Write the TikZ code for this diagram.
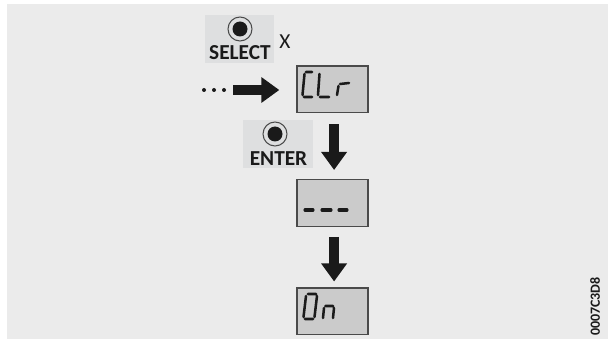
\documentclass[tikz,border=0pt]{standalone}
\usepackage{fontspec}
\setmainfont{Carlito}
\usetikzlibrary{arrows.meta}
\definecolor{panel}{HTML}{EBEBEB}
\definecolor{keybg}{HTML}{DEDFE0}
\definecolor{lcdbg}{HTML}{CBCBCB}
\definecolor{lcdline}{HTML}{4A4A4A}
\definecolor{ink}{HTML}{1A1A1A}
\tikzset{
lcd/.style={draw=lcdline,line width=1pt,fill=lcdbg,minimum width=53.25pt,minimum height=35pt,inner sep=0pt},
key/.style={fill=keybg,minimum width=52pt,minimum height=36pt,inner sep=0pt},
keyname/.style={font=\bfseries\fontsize{16}{16}\selectfont,text=ink,inner sep=0pt},
keyring/.style={draw=lcdline,fill=keybg,line width=.8pt},
segment/.style={ink,line width=1.9pt,line cap=round},
blockarrow/.style={ink,line width=8pt,-{Triangle[length=13.5pt,width=18.5pt]}},
}
\begin{document}
\begin{tikzpicture}[x=.75pt,y=-.75pt]
\useasboundingbox (0,0) rectangle (608,342);
\fill[white] (0,0) rectangle (608,342);
\fill[panel] (7,4) rectangle (608,339);

%select key
\node[key] (select) at (239.5,39) {};
\draw[keyring] (240,29) circle (12);
\fill[ink] (240,29) circle (7.5);
\node[keyname] (selecttext) at (240,52.5) {SELECT};
\node[font=\fontsize{16}{16}\selectfont,text=ink,inner sep=0pt] (times) at (285,42) {X};

%dots and first arrow
\fill[ink] (204,90) circle (2) (214,90) circle (2) (224,90) circle (2);
\coordinate (arrowstart) at (233,90);

%displays
\node[lcd] (clr) at (332.5,89.5) {};
\node[lcd] (dashes) at (332.5,203) {};
\node[lcd] (on) at (332.5,311.5) {};
\draw[blockarrow,shorten >=12.75pt] (arrowstart) -- (clr.west |- arrowstart);

%enter key
\node[key] (enter) at (278,144.5) {};
\draw[keyring] (275,134) circle (12);
\fill[ink] (275,134) circle (7.5);
\node[keyname] (entertext) at (278.5,158.5) {ENTER};

\draw[blockarrow,shorten <=8.25pt,shorten >=6.75pt] ([xshift=1.2]clr.south) -- ([xshift=1.2]dashes.north);
\draw[blockarrow,shorten <=7.5pt,shorten >=4.5pt] ([xshift=1.2]dashes.south) -- ([xshift=1.2]on.north);

%CLr
\draw[segment] (306,72) -- (312,72) (304.5,74) -- (302.5,95) (304,97) -- (312,97);
\draw[segment] (319.5,74) -- (318,95) (320,97) -- (329,97);
\draw[segment] (337,95) -- (338.5,86) (340,84) -- (349,83);
%dashes
\draw[segment,line width=2.3pt] (305,210) -- (313,210) (322,210) -- (331,210) (339,210) -- (347,210);
%On
\draw[segment] (308,294) -- (316,294) (306,296) -- (303.5,317) (317,296) -- (314.5,317) (305,319) -- (313,319);
\draw[segment] (323,318) -- (324,308) (325.5,306) -- (333,306) (334,308) -- (333,318);

\node[rotate=90,font=\bfseries\fontsize{10.5}{11}\selectfont,text=ink,inner sep=0pt] (code) at (595,306.5) {0007C3D8};
\end{tikzpicture}
\end{document}
